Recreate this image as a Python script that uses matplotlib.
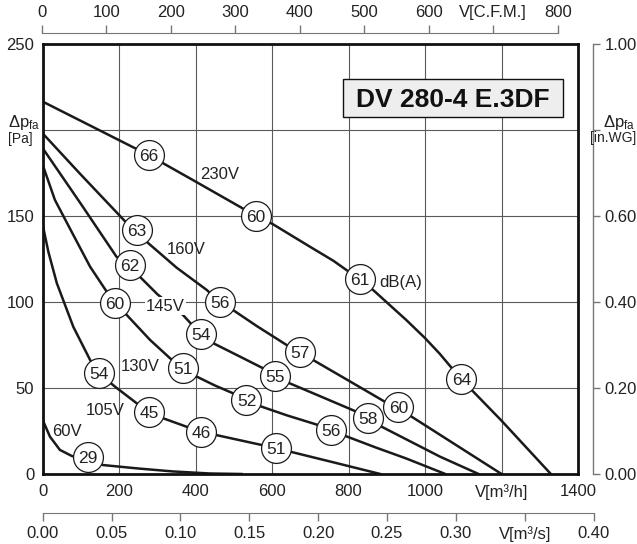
import matplotlib
matplotlib.use("Agg")
import matplotlib.pyplot as plt
from matplotlib.patches import Rectangle

plt.rcParams["font.family"] = ["Liberation Sans", "DejaVu Sans"]
plt.rcParams["mathtext.fontset"] = "custom"
plt.rcParams["mathtext.rm"] = "Liberation Sans"
plt.rcParams["mathtext.it"] = "Liberation Sans"

TXT = "#222222"
LINE = "#1a1a1a"
GRID = "#5a5a5a"
AXG = "#777777"

# --- fan curves: flow [m3/h], static pressure [Pa] ---
flow_230 = [0, 278, 400, 558, 600, 700, 760, 830, 864, 951, 1000, 1038, 1095, 1200, 1329]
press_230 = [216.5, 185.3, 170, 150, 145.5, 132, 124, 113, 107, 89.5, 79, 70, 55, 31, 0]

flow_160 = [0, 100, 215, 246, 272, 350, 429, 464, 498, 560, 638, 673, 707, 800, 895, 930, 965, 1080, 1200]
press_160 = [198, 174, 147, 142, 135, 120, 107, 100, 95.3, 86, 75, 71, 66.3, 54.3, 42, 39, 33.3, 17, 0]

flow_145 = [0, 100, 193, 228, 254, 300, 367, 411, 450, 520, 577, 607, 642, 730, 821, 851, 882, 1039, 1140]
press_145 = [189.4, 157, 126.3, 121.5, 114.7, 104.5, 92.4, 81.8, 75.6, 67.8, 61.4, 57.2, 53.1, 44.8, 36.2, 32.4, 28, 10.1, 0]

flow_130 = [0, 32, 80, 124, 189, 220, 281, 333, 368, 403, 450, 498, 533, 568, 640, 720, 755, 793, 870, 951, 1053]
press_130 = [179.7, 159.3, 139, 120.5, 98.8, 92.4, 77.9, 67.3, 61.4, 56.6, 51.5, 46.9, 43, 39.5, 34, 28.5, 25.6, 22, 15.5, 9, 0]

flow_105 = [0, 15, 37, 80, 124, 145, 189, 246, 280, 315, 376, 414, 500, 570, 610, 647, 760, 883]
press_105 = [144.8, 129, 110.9, 85.6, 66.3, 58.9, 50.8, 41.1, 36.2, 32.4, 27.5, 24.6, 20.4, 17, 15.3, 13, 6.8, 0]

flow_60 = [0, 19, 45, 76, 119, 158, 250, 340, 437, 520]
press_60 = [31.4, 21.7, 14, 10.5, 8, 5.2, 3.2, 1.5, 0.3, 0]

# --- sound level markers on each curve: flow, pressure, dB(A) ---
mk_flow_230, mk_press_230, mk_db_230 = [278, 558, 830, 1095], [185.5, 150.2, 113.2, 55], [66, 60, 61, 64]
mk_flow_160, mk_press_160, mk_db_160 = [246, 464, 673, 930], [141.9, 100.2, 70.8, 38.9], [63, 56, 57, 60]
mk_flow_145, mk_press_145, mk_db_145 = [228, 413, 607, 851], [121.8, 81.3, 57.2, 32.4], [62, 54, 55, 58]
mk_flow_130, mk_press_130, mk_db_130 = [189, 367.5, 533, 755], [99.2, 61.4, 43, 25.6], [60, 51, 52, 56]
mk_flow_105, mk_press_105, mk_db_105 = [147, 279, 414, 610], [58.5, 36, 24.6, 15.3], [54, 45, 46, 51]
mk_flow_60, mk_press_60, mk_db_60 = [119], [9.8], [29]

# --- axis ticks ---
x_ticks = [0, 200, 400, 600, 800, 1000, 1200, 1400]
x_labels = ["0", "200", "400", "600", "800", "1000", "V[m³/h]", "1400"]
y_ticks = [0, 50, 100, 150, 200, 250]
y_labels = ["0", "50", "100", "150", "", "250"]
cfm_ticks = [0, 100, 200, 300, 400, 500, 600, 700, 800]
cfm_labels = ["0", "100", "200", "300", "400", "500", "600", "V[C.F.M.]", "800"]
m3s_ticks = [0.00, 0.05, 0.10, 0.15, 0.20, 0.25, 0.30, 0.35, 0.40]
m3s_labels = ["0.00", "0.05", "0.10", "0.15", "0.20", "0.25", "0.30", "V[m³/s]", "0.40"]
wg_ticks = [0.0, 0.2, 0.4, 0.6, 0.8, 1.0]
wg_labels = ["0.00", "0.20", "0.40", "0.60", "", "1.00"]

W, H = 637, 544
fig = plt.figure(figsize=(W / 100, H / 100), dpi=100)

# main axes (pixel frame 42.7..578 x 44..474)
x0, x1, yt, yb = 42.7, 578.0, 44.0, 474.0
ax = fig.add_axes([x0 / W, (H - yb) / H, (x1 - x0) / W, (yb - yt) / H])
ax.set_xlim(0, 1400)
ax.set_ylim(0, 250)
ax.set_xticks(x_ticks)
ax.set_xticklabels(x_labels)
ax.set_yticks(y_ticks)
ax.set_yticklabels(y_labels)
ax.tick_params(length=0, labelsize=12, labelcolor=TXT)
ax.tick_params(axis="x", pad=7)
ax.tick_params(axis="y", pad=6)
for s in ax.spines.values():
    s.set_linewidth(2.0)
    s.set_color("#111111")
    s.set_zorder(6)
ax.grid(True, color=GRID, lw=0.8)
ax.set_axisbelow(True)

curves = [
    (flow_230, press_230, mk_flow_230, mk_press_230, mk_db_230),
    (flow_160, press_160, mk_flow_160, mk_press_160, mk_db_160),
    (flow_145, press_145, mk_flow_145, mk_press_145, mk_db_145),
    (flow_130, press_130, mk_flow_130, mk_press_130, mk_db_130),
    (flow_105, press_105, mk_flow_105, mk_press_105, mk_db_105),
    (flow_60, press_60, mk_flow_60, mk_press_60, mk_db_60),
]
for fx, fy, mx, my, db in curves:
    ax.plot(fx, fy, color=LINE, lw=1.8, zorder=3, solid_joinstyle="round")
    ax.plot(mx, my, ls="none", marker="o", ms=21.5, mfc="white", mec=LINE, mew=0.9, zorder=4)
    for a, b, d in zip(mx, my, db):
        ax.text(a, b, str(d), ha="center", va="center_baseline", fontsize=12.5, color=TXT, zorder=5)

lab_kw = dict(ha="center", va="center_baseline", fontsize=12, color=TXT, zorder=5)
ax.text(463, 174.8, "230V", **lab_kw)
ax.text(376, 131.2, "160V", **lab_kw)
ax.text(321, 98.5, "145V", bbox=dict(fc="white", ec="none", pad=1), **lab_kw)
ax.text(254, 63.4, "130V", **lab_kw)
ax.text(163, 37.6, "105V", **lab_kw)
ax.text(63, 25.6, "60V", **lab_kw)
ax.text(880, 112.5, "dB(A)", ha="left", va="center_baseline", fontsize=12, color=TXT, zorder=5)

# model name box
ax.add_patch(Rectangle((0.5604, 0.8309), 0.4122, 0.0877, transform=ax.transAxes,
                       fc="#eeeeee", ec="#111111", lw=1.0, zorder=5))
ax.text(0.7665, 0.8749, "DV 280-4 E.3DF", transform=ax.transAxes, ha="center",
        va="center_baseline", fontsize=19, fontweight="bold", color="#111111", zorder=6)

# right axis in.WG
axr = ax.twinx()
axr.set_ylim(0, 1.0)
axr.set_yticks(wg_ticks)
axr.set_yticklabels(wg_labels)
for k in ["top", "bottom", "left"]:
    axr.spines[k].set_visible(False)
axr.spines["right"].set_position(("outward", 11))
axr.spines["right"].set_color(AXG)
axr.spines["right"].set_linewidth(1.0)
axr.tick_params(axis="y", direction="out", length=5, width=1.0, color=AXG,
                labelsize=12, labelcolor=TXT, pad=3)

# top axis C.F.M.
ct0, ct1, cty = 41.7, 557.7, 32.7
axt = fig.add_axes([ct0 / W, (H - cty) / H, (ct1 - ct0) / W, 1e-4])
axt.set_xlim(0, 800)
axt.set_yticks([])
axt.patch.set_visible(False)
for k in ["bottom", "left", "right"]:
    axt.spines[k].set_visible(False)
axt.spines["top"].set_color(AXG)
axt.xaxis.tick_top()
axt.set_xticks(cfm_ticks)
axt.set_xticklabels(cfm_labels)
axt.tick_params(axis="x", direction="out", length=6, width=1.0, color=AXG,
                labelsize=12, labelcolor=TXT, pad=3)

# bottom axis m3/s
bt0, bt1, bty = 42.7, 593.5, 513.3
axb = fig.add_axes([bt0 / W, (H - bty) / H, (bt1 - bt0) / W, 1e-4])
axb.set_xlim(0, 0.40)
axb.set_yticks([])
axb.patch.set_visible(False)
for k in ["bottom", "left", "right"]:
    axb.spines[k].set_visible(False)
axb.spines["top"].set_color(AXG)
axb.spines["top"].set_position(("axes", 0))
axb.set_xticks(m3s_ticks)
axb.set_xticklabels(m3s_labels)
axb.tick_params(axis="x", direction="out", length=6, width=1.0, color=AXG,
                labelsize=12, labelcolor=TXT, pad=3)

# pressure axis titles
fig.text(8 / W, 1 - 122 / H, r"$\Delta\mathregular{p_{fa}}$", fontsize=12, color=TXT,
         ha="left", va="center")
fig.text(8 / W, 1 - 138.5 / H, "[Pa]", fontsize=10, color=TXT, ha="left", va="center")
fig.text(603 / W, 1 - 122 / H, r"$\Delta\mathregular{p_{fa}}$", fontsize=12, color=TXT,
         ha="left", va="center")
fig.text(613 / W, 1 - 138 / H, "[in.WG]", fontsize=10, color=TXT, ha="center", va="center")

fig.savefig("out.png", dpi=100)
